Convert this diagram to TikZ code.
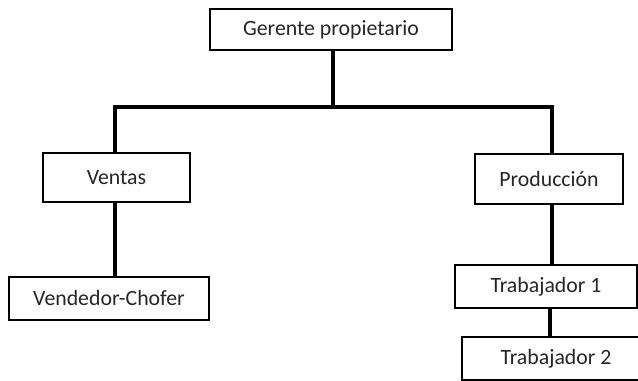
\documentclass[tikz,border=0pt]{standalone}
\usepackage{fontspec}
\setmainfont{Carlito}
\usepackage{tikz}
\usetikzlibrary{calc,positioning}

\begin{document}
\begin{tikzpicture}[x=0.025cm,y=-0.025cm,
  every node/.style={font=\fontsize{15.5}{18}\selectfont,align=center,text=black!85},
  caja/.style={draw=black, line width=2.1pt, fill=white, inner sep=0pt},
  linea/.style={draw=black, line width=2.8pt}]

\useasboundingbox (0,0) rectangle (638,381);

% Nodos del organigrama
\node[caja, minimum width=242*0.025cm, minimum height=41*0.025cm] (ger) at (331,29.5) {Gerente propietario};
\node[caja, minimum width=147*0.025cm, minimum height=49*0.025cm] (ven) at (116.5,177.5) {Ventas};
\node[caja, minimum width=148*0.025cm, minimum height=50*0.025cm] (pro) at (549,179) {Producción};
\node[caja, minimum width=200*0.025cm, minimum height=43*0.025cm] (vch) at (109,298.5) {Vendedor-Chofer};
\node[caja, minimum width=182*0.025cm, minimum height=43*0.025cm] (tr1) at (546,286.5) {Trabajador 1};
\node[caja, minimum width=188*0.025cm, minimum height=43*0.025cm] (tr2) at (556,358.5) {Trabajador 2};

% Barra horizontal bajo el gerente
\coordinate (bus) at (333,107);

% Conexiones
\draw[linea] (ger.south -| bus) -- (bus);
\draw[linea] (ven.north -| 115,0) |- (bus) -| (pro.north -| 552,0);
\draw[linea] (ven.south -| 115,0) -- (vch.north -| 115,0);
\draw[linea] (pro.south -| 552,0) -- (tr1.north -| 552,0);
\draw[linea] (tr1.south -| 550,0) -- (tr2.north -| 550,0);

\end{tikzpicture}
\end{document}
